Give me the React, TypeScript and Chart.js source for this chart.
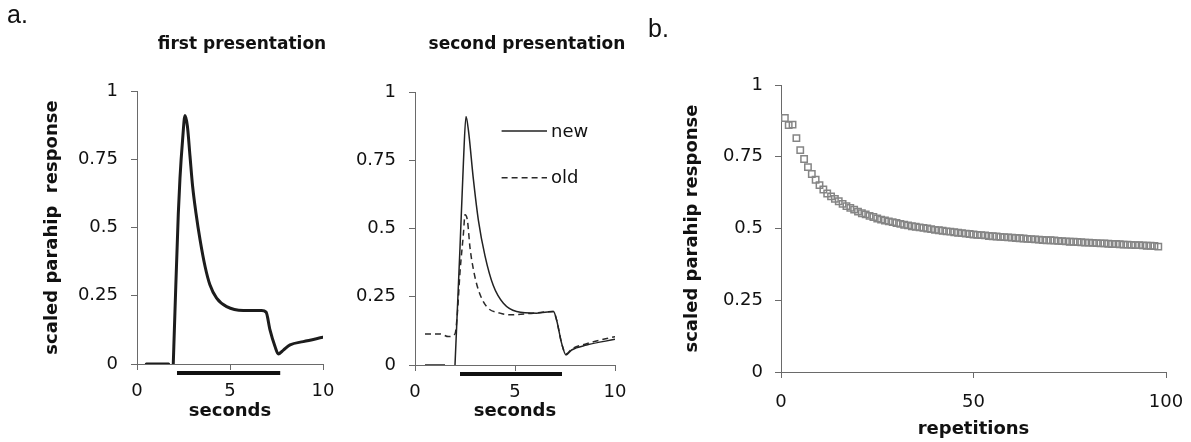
import React, { useEffect, useRef } from 'react';
import { Chart, registerables } from 'chart.js';

Chart.register(...registerables);

const FONT = '"DejaVu Sans", Verdana, sans-serif';

// ---- panel a, first presentation ----
const secondsFirst = [0.5, 1.7, 1.8, 1.95, 2.04, 2.22, 2.31, 2.45, 2.58, 2.71, 2.85, 2.99, 3.17, 3.39, 3.66, 3.92, 4.28, 4.82, 5.72, 6.7, 6.94, 7.15, 7.42, 7.6, 7.87, 8.23, 8.94, 10.0];
const responseFirst = [0, 0, null, 0, 0.19, 0.55, 0.68, 0.82, 0.91, 0.871, 0.761, 0.651, 0.553, 0.455, 0.357, 0.29, 0.241, 0.21, 0.196, 0.196, 0.19, 0.125, 0.064, 0.037, 0.051, 0.07, 0.082, 0.098];

// ---- panel a, second presentation ----
const secondsNew = [0.5, 1.5, 1.75, 2.0, 2.25, 2.42, 2.55, 2.67, 2.92, 3.17, 3.5, 3.92, 4.42, 5.08, 6.08, 6.92, 7.08, 7.33, 7.55, 7.83, 8.58, 10.0];
const responseNew = [0, 0, null, 0, 0.43, 0.74, 0.91, 0.86, 0.68, 0.53, 0.4, 0.29, 0.226, 0.196, 0.19, 0.196, 0.165, 0.08, 0.037, 0.055, 0.073, 0.094];
const secondsOld = [0.5, 1.25, 1.67, 2.0, 2.12, 2.25, 2.42, 2.5, 2.62, 2.75, 2.92, 3.17, 3.58, 4.25, 4.75, 5.92, 6.92, 7.08, 7.33, 7.55, 7.83, 8.58, 10.0];
const responseOld = [0.114, 0.114, 0.104, 0.114, 0.19, 0.34, 0.48, 0.55, 0.53, 0.43, 0.35, 0.275, 0.214, 0.19, 0.184, 0.19, 0.196, 0.165, 0.08, 0.04, 0.058, 0.078, 0.104];
const seriesLabels = ['new', 'old'];

// stimulus period (seconds) drawn as a bar under each time axis
const stimulusFirst = [2.15, 7.7];
const stimulusSecond = [2.25, 7.35];

// ---- panel b ----
const repetitionResponse = [
  0.885, 0.86, 0.862, 0.815, 0.773, 0.742, 0.714, 0.69, 0.67, 0.651,
  0.636, 0.622, 0.612, 0.603, 0.595, 0.586, 0.578, 0.572, 0.566, 0.559,
  0.553, 0.549, 0.544, 0.54, 0.535, 0.531, 0.528, 0.525, 0.522, 0.519,
  0.516, 0.513, 0.511, 0.508, 0.506, 0.504, 0.502, 0.5, 0.498, 0.495,
  0.494, 0.492, 0.49, 0.489, 0.487, 0.485, 0.484, 0.482, 0.481, 0.479,
  0.478, 0.477, 0.476, 0.474, 0.473, 0.472, 0.471, 0.47, 0.469, 0.468,
  0.467, 0.466, 0.465, 0.464, 0.463, 0.462, 0.461, 0.46, 0.459, 0.459,
  0.458, 0.457, 0.456, 0.455, 0.454, 0.454, 0.453, 0.452, 0.451, 0.451,
  0.45, 0.449, 0.448, 0.448, 0.447, 0.446, 0.446, 0.445, 0.444, 0.444,
  0.443, 0.442, 0.442, 0.441, 0.44, 0.44, 0.439, 0.437,
];

const panelTitles = ['first presentation', 'second presentation'];
const yTitleA = 'scaled parahip  response';
const yTitleB = 'scaled parahip response';

const toPoints = (xs: number[], ys: (number | null)[]) => xs.map((x, i) => ({ x, y: ys[i] }));

// ---- plugins ----
const textPlugin = {
  id: 'panelText',
  afterDraw(chart: any, _a: any, opts: any) {
    const ctx = chart.ctx;
    (opts.items || []).forEach((it: any) => {
      ctx.save();
      ctx.font = it.font;
      ctx.fillStyle = '#111';
      ctx.textAlign = it.align || 'left';
      ctx.textBaseline = 'alphabetic';
      ctx.fillText(it.text, it.x, it.y);
      ctx.restore();
    });
  },
};

const stimulusPlugin = {
  id: 'stimulusBar',
  afterDraw(chart: any, _a: any, opts: any) {
    if (!opts.range) return;
    const ctx = chart.ctx;
    const xs = chart.scales.x;
    const y = chart.chartArea.bottom + opts.offset;
    ctx.save();
    ctx.strokeStyle = '#111';
    ctx.lineWidth = 4;
    ctx.beginPath();
    ctx.moveTo(xs.getPixelForValue(opts.range[0]), y);
    ctx.lineTo(xs.getPixelForValue(opts.range[1]), y);
    ctx.stroke();
    ctx.restore();
  },
};

const lineLegendPlugin = {
  id: 'lineLegend',
  afterDraw(chart: any, _a: any, opts: any) {
    if (!opts.rows) return;
    const ctx = chart.ctx;
    const xs = chart.scales.x;
    const ys = chart.scales.y;
    const px0 = xs.getPixelForValue(opts.x0);
    const px1 = xs.getPixelForValue(opts.x1);
    opts.rows.forEach((row: any, i: number) => {
      const ds = chart.data.datasets[i];
      const y = ys.getPixelForValue(row.y);
      ctx.save();
      ctx.strokeStyle = ds.borderColor;
      ctx.lineWidth = ds.borderWidth;
      ctx.setLineDash(ds.borderDash || []);
      ctx.beginPath();
      ctx.moveTo(px0, y);
      ctx.lineTo(px1, y);
      ctx.stroke();
      ctx.setLineDash([]);
      ctx.font = `18px ${FONT}`;
      ctx.fillStyle = '#111';
      ctx.textAlign = 'left';
      ctx.textBaseline = 'middle';
      ctx.fillText(ds.label, px1 + 4, y + 1);
      ctx.restore();
    });
  },
};

function axis(o: any) {
  return {
    type: 'linear',
    min: o.min,
    max: o.max,
    ticks: {
      stepSize: o.step,
      font: { family: FONT, size: 18 },
      color: '#111',
      padding: o.pad,
      callback: (v: any) => String(Math.round(Number(v) * 1000) / 1000),
    },
    grid: { display: true, drawOnChartArea: false, drawTicks: true, tickLength: 6, color: '#6a6a6a', lineWidth: 1 },
    border: { display: true, color: '#6a6a6a', width: 1 },
    title: o.title
      ? { display: true, text: o.title, font: { family: FONT, size: 18, weight: 'bold' }, color: '#111', padding: o.titlePad }
      : { display: false },
    afterFit: (s: any) => {
      if (o.w !== undefined) s.width = o.w;
      if (o.h !== undefined) s.height = o.h;
      s.paddingLeft = 0;
      s.paddingRight = 0;
      s.paddingTop = 0;
      s.paddingBottom = 0;
    },
  };
}

function baseOptions(o: any) {
  return {
    animation: false,
    responsive: false,
    devicePixelRatio: 1,
    layout: { padding: o.padding },
    events: [],
    plugins: {
      legend: { display: false },
      tooltip: { enabled: false },
      title: { display: false },
      panelText: { items: o.texts || [] },
      stimulusBar: { range: o.stimulus, offset: 9 },
      lineLegend: o.legend || {},
    },
    scales: o.scales,
  };
}

const plugins = [textPlugin, stimulusPlugin, lineLegendPlugin];

function configFirst() {
  return {
    type: 'line',
    data: {
      datasets: [
        {
          label: 'first',
          data: toPoints(secondsFirst, responseFirst),
          borderColor: '#1c1c1c',
          borderWidth: 3,
          pointRadius: 0,
          cubicInterpolationMode: 'monotone',
          borderJoinStyle: 'round',
          borderCapStyle: 'round',
          spanGaps: false,
        },
      ],
    },
    options: baseOptions({
      padding: { left: 42, top: 91, right: 17, bottom: 0 },
      stimulus: stimulusFirst,
      texts: [
        { text: 'a.', x: 7, y: 23, font: '25px "Liberation Sans", Arial, sans-serif' },
        { text: panelTitles[0], x: 242, y: 49, font: `bold 17px ${FONT}`, align: 'center' },
      ],
      scales: {
        x: axis({ min: 0, max: 10, step: 5, pad: 11, h: 78, title: 'seconds', titlePad: { top: 0, bottom: 20 } }),
        y: axis({ min: 0, max: 1, step: 0.25, pad: 13, w: 95, title: yTitleA, titlePad: { top: 0, bottom: 0 } }),
      },
    }),
    plugins,
  };
}

function configSecond() {
  return {
    type: 'line',
    data: {
      datasets: [
        {
          label: seriesLabels[0],
          data: toPoints(secondsNew, responseNew),
          borderColor: '#222222',
          borderWidth: 1.5,
          pointRadius: 0,
          cubicInterpolationMode: 'monotone',
          spanGaps: false,
        },
        {
          label: seriesLabels[1],
          data: toPoints(secondsOld, responseOld),
          borderColor: '#2a2a2a',
          borderWidth: 1.5,
          borderDash: [6, 4],
          pointRadius: 0,
          cubicInterpolationMode: 'monotone',
          spanGaps: false,
        },
      ],
    },
    options: baseOptions({
      padding: { left: 0, top: 92, right: 25, bottom: 0 },
      stimulus: stimulusSecond,
      texts: [{ text: panelTitles[1], x: 187, y: 49, font: `bold 17px ${FONT}`, align: 'center' }],
      legend: { x0: 4.33, x1: 6.6, rows: [{ y: 0.857 }, { y: 0.686 }] },
      scales: {
        x: axis({ min: 0, max: 10, step: 5, pad: 11, h: 77, title: 'seconds', titlePad: { top: 0, bottom: 20 } }),
        y: axis({ min: 0, max: 1, step: 0.25, pad: 13, w: 75 }),
      },
    }),
    plugins,
  };
}

function configRepetitions() {
  return {
    type: 'scatter',
    data: {
      datasets: [
        {
          label: 'repetitions',
          data: repetitionResponse.map((y, i) => ({ x: i + 1, y })),
          pointStyle: 'rect',
          pointRadius: 4.5,
          borderWidth: 1.5,
          borderColor: '#858585',
          backgroundColor: 'rgba(255,255,255,0)',
          showLine: false,
        },
      ],
    },
    options: baseOptions({
      padding: { left: 42, top: 85, right: 25, bottom: 0 },
      texts: [{ text: 'b.', x: 8, y: 37, font: '25px "Liberation Sans", Arial, sans-serif' }],
      scales: {
        x: axis({ min: 0, max: 100, step: 50, pad: 14, h: 70, title: 'repetitions', titlePad: { top: 0, bottom: 2 } }),
        y: axis({ min: 0, max: 1, step: 0.25, pad: 12, w: 99, title: yTitleB, titlePad: { top: 0, bottom: 0 } }),
      },
    }),
    plugins,
  };
}

function Panel({ left, width, make }: { left: number; width: number; make: () => any }) {
  const ref = useRef<HTMLCanvasElement>(null);
  useEffect(() => {
    const chart = new Chart(ref.current as HTMLCanvasElement, make());
    return () => chart.destroy();
  }, []);
  return (
    <canvas
      ref={ref}
      width={width}
      height={442}
      style={{ position: 'absolute', left, top: 0, width, height: 442, display: 'block' }}
    />
  );
}

export default function App() {
  return (
    <div style={{ position: 'absolute', left: 0, top: 0, width: 1191, height: 442, background: '#ffffff', overflow: 'hidden' }}>
      <Panel left={0} width={340} make={configFirst} />
      <Panel left={340} width={300} make={configSecond} />
      <Panel left={640} width={551} make={configRepetitions} />
    </div>
  );
}
